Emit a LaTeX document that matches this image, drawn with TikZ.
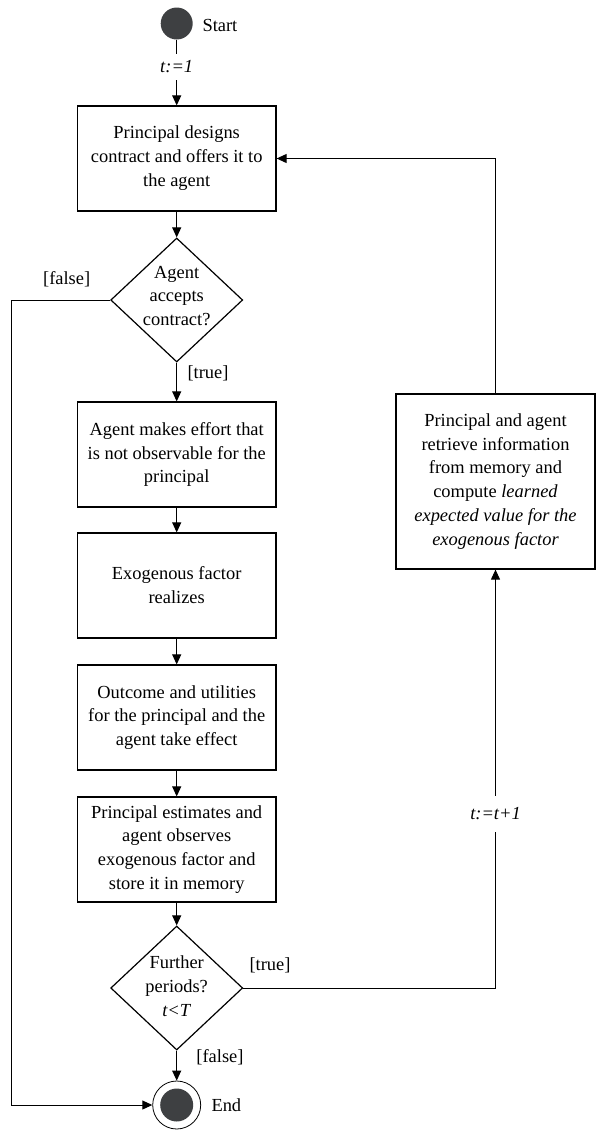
\documentclass[tikz,border=0pt]{standalone}
\usepackage{fontspec}
\setmainfont{Liberation Serif}
\usetikzlibrary{shapes.geometric,arrows.meta}
\definecolor{dotgray}{RGB}{62,64,66}
\begin{document}
\begin{tikzpicture}[x=1bp,y=-1bp,
		font=\fontsize{18.5}{24}\selectfont,
		>={Triangle[length=10bp,width=9bp]},
		box/.style={draw,line width=1.2bp,minimum width=198.7bp,minimum height=105bp,align=center,inner sep=0pt},
		decision/.style={draw,diamond,line width=1.2bp,minimum width=132bp,minimum height=124bp,inner sep=0pt},
		flow/.style={line width=1bp}]
			\useasboundingbox (0,0) rectangle (596,1135);
			\node[circle,fill=dotgray,minimum size=32bp,inner sep=0pt] (start) at (176.7,23.5) {};
			\node[anchor=west] (starttxt) at (199,25) {Start};
			\node[inner sep=7bp] (tone) at (176.7,67) {\textit{t:=1}};
			\node[box] (design) at (176.7,158.5) {Principal designs\\contract and offers it to\\the agent};
			\node[decision] (accept) at (176.7,300) {};
			\node[align=center] (accepttxt) at (176.7,296) {Agent\\accepts\\contract?};
			\node[box] (effort) at (176.7,454.5) {Agent makes effort that\\is not observable for the\\principal};
			\node[box] (factor) at (176.7,585.5) {Exogenous factor\\realizes};
			\node[box] (outcome) at (176.7,717.5) {Outcome and utilities\\for the principal and the\\agent take effect};
			\node[box] (observe) at (176.7,849.5) {Principal estimates and\\agent observes\\exogenous factor and\\store it in memory};
			\node[decision] (check) at (176.7,988) {};
			\node[align=center] (checktxt) at (176.7,986) {Further\\periods?\\\textit{t<T}};
			\node[circle,draw,line width=0.8bp,minimum size=48bp,inner sep=0pt] (endring) at (176.7,1105) {};
			\node[circle,fill=dotgray,minimum size=33bp,inner sep=0pt] (enddot) at (endring) {};
			\node[anchor=west] (endtxt) at (208,1105) {End};
			\node[box,minimum width=199bp,minimum height=175bp] (recall) at (495.5,481.5) {Principal and agent\\retrieve information\\from memory and\\compute \textit{learned}\\\textit{expected value for the}\\\textit{exogenous factor}};
			\node[inner sep=12bp] (tnext) at (495.5,814) {\textit{t:=t+1}};
			\coordinate (falseturn) at (11.7,300);
			\node (falseone) at (66.7,279) {[false]};
			\node (trueone) at (208,373) {[true]};
			\node (truetwo) at (270,965) {[true]};
			\node (falsetwo) at (220,1057) {[false]};
			\draw[flow] (start) -- (tone);
			\draw[flow,->] (tone) -- (design);
			\draw[flow,->] (design) -- (accept);
			\draw[flow,->] (accept) -- (effort);
			\draw[flow,->] (effort) -- (factor);
			\draw[flow,->] (factor) -- (outcome);
			\draw[flow,->] (outcome) -- (observe);
			\draw[flow,->] (observe) -- (check);
			\draw[flow,->] (check) -- (endring);
			\draw[flow,->] (accept.west) -- (falseturn) |- (endring);
			\draw[flow] (check.east) -| (tnext);
			\draw[flow,->] (tnext) -- (recall);
			\draw[flow,->] (recall) |- (design);
		\end{tikzpicture}
\end{document}
